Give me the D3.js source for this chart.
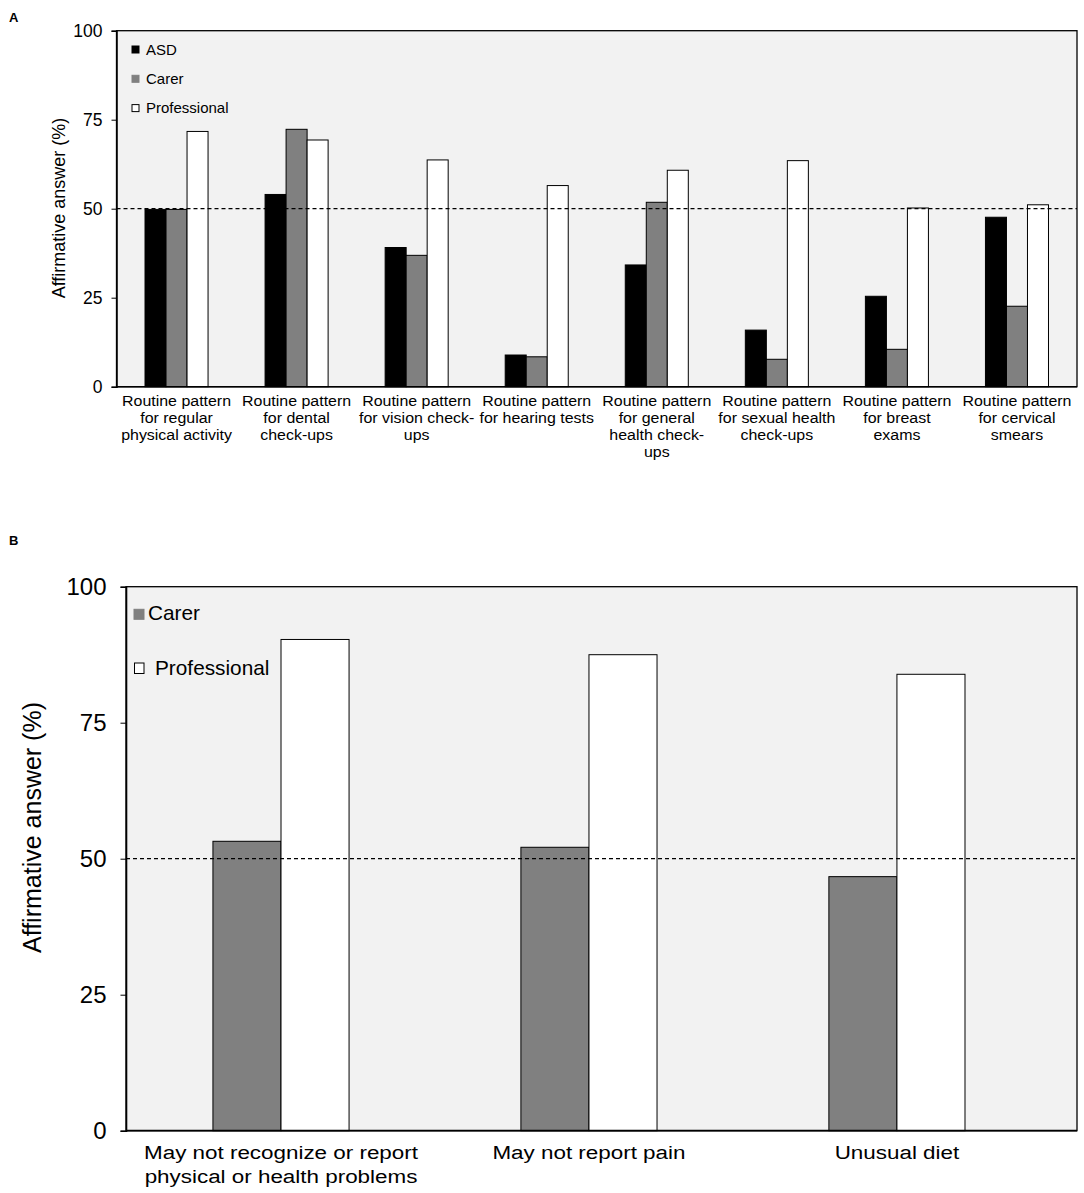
<!DOCTYPE html>
<html><head><meta charset="utf-8">
<script src="https://cdn.jsdelivr.net/npm/d3@7"></script>
<style>
html,body{margin:0;padding:0;background:#fff;}
svg{display:block;font-family:"Liberation Sans",Arial,Helvetica,sans-serif;}
</style></head>
<body>
<svg id="chart" width="1084" height="1193"></svg>
<script>
// ---------- Panel A data ----------
const categoriesA = [
  ["Routine pattern","for regular","physical activity"],
  ["Routine pattern","for dental","check-ups"],
  ["Routine pattern","for vision check-","ups"],
  ["Routine pattern","for hearing tests"],
  ["Routine pattern","for general","health check-","ups"],
  ["Routine pattern","for sexual health","check-ups"],
  ["Routine pattern","for breast","exams"],
  ["Routine pattern","for cervical","smears"]
];
const seriesA = ["ASD","Carer","Professional"];
const asdA          = [49.8, 54.0, 39.1, 8.9, 34.2, 15.9, 25.4, 47.6];
const carerA        = [49.8, 72.3, 36.9, 8.4, 51.8, 7.7, 10.5, 22.6];
const professionalA = [71.7, 69.3, 63.7, 56.5, 60.8, 63.5, 50.2, 51.1];
const yTicksA = [0, 25, 50, 75, 100];

// ---------- Panel B data ----------
const categoriesB = [
  ["May not recognize or report","physical or health problems"],
  ["May not report pain"],
  ["Unusual diet"]
];
const seriesB = ["Carer","Professional"];
const carerB        = [53.2, 52.1, 46.7];
const professionalB = [90.3, 87.5, 83.9];
const yTicksB = [0, 25, 50, 75, 100];
const threshold = 50;

const colors = {ASD:"#000000", Carer:"#808080", Professional:"#ffffff"};
const svg = d3.select("#chart");

// ================= PANEL A =================
(function(){
  const L=116.5, R=1077, T=30.7, B=386.7;
  const g = svg.append("g");
  const valuesA = {ASD:asdA, Carer:carerA, Professional:professionalA};
  const x0 = d3.scaleBand().domain(d3.range(categoriesA.length)).range([L,R])
      .paddingInner(0.475).paddingOuter(0.2375);
  const x1 = d3.scaleBand().domain(seriesA).range([0,x0.bandwidth()]);
  const y = d3.scaleLinear().domain([0,100]).range([B,T]);

  g.append("rect").attr("x",L).attr("y",T).attr("width",R-L).attr("height",B-T)
    .attr("fill","#f2f2f2").attr("stroke","#000").attr("stroke-width",1.3);

  categoriesA.forEach((c,i)=>{
    seriesA.forEach(s=>{
      const v = valuesA[s][i];
      g.append("rect").attr("x",x0(i)+x1(s)).attr("y",y(v))
        .attr("width",x1.bandwidth()).attr("height",y(0)-y(v))
        .attr("fill",colors[s]).attr("stroke","#000").attr("stroke-width",1);
    });
  });

  g.append("line").attr("x1",L).attr("x2",R).attr("y1",y(threshold)).attr("y2",y(threshold))
    .attr("stroke","#000").attr("stroke-width",1.2).attr("stroke-dasharray","4,3");

  const ya = g.append("g").attr("transform",`translate(${L},0)`)
    .call(d3.axisLeft(y).tickValues(yTicksA).tickSize(5).tickPadding(9));
  ya.select(".domain").attr("stroke","#000").attr("stroke-width",1.5);
  ya.selectAll("text").attr("font-size",17.5).attr("fill","#000")
    .attr("font-family","Liberation Sans, Arial, sans-serif");
  ya.selectAll("line").attr("stroke","#000");

  g.append("line").attr("x1",L).attr("x2",R).attr("y1",B).attr("y2",B)
    .attr("stroke","#000").attr("stroke-width",1.5);

  categoriesA.forEach((lines,i)=>{
    const cx = x0(i)+x0.bandwidth()/2;
    const t = g.append("text").attr("text-anchor","middle").attr("font-size",14.5).attr("fill","#000")
      .attr("transform",`translate(${cx},0) scale(1.1,1)`);
    lines.forEach((ln,k)=>{
      t.append("tspan").attr("x",0).attr("y",406.5+k*16.7).text(ln);
    });
  });

  g.append("text").attr("transform",`translate(65,${208}) rotate(-90)`)
    .attr("text-anchor","middle").attr("font-size",18).text("Affirmative answer (%)");

  seriesA.forEach((s,k)=>{
    const ly = 50 + k*29.3;
    g.append("rect").attr("x",132).attr("y",ly-4).attr("width",7).attr("height",7)
      .attr("fill",colors[s]).attr("stroke", s==="Carer" ? "#808080" : "#000").attr("stroke-width",1);
    g.append("text").attr("x",146).attr("y",ly+4.5).attr("font-size",15).text(s);
  });

  svg.append("text").attr("x",9).attr("y",22).attr("font-size",13).attr("font-weight","bold").text("A");
})();

// ================= PANEL B =================
(function(){
  const L=126, R=1077, T=586.7, B=1130.7;
  const g = svg.append("g");
  const valuesB = {Carer:carerB, Professional:professionalB};
  const x0 = d3.scaleBand().domain(d3.range(categoriesB.length)).range([L,R])
      .paddingInner(0.558).paddingOuter(0.323).align(0.437);
  const x1 = d3.scaleBand().domain(seriesB).range([0,x0.bandwidth()]);
  const y = d3.scaleLinear().domain([0,100]).range([B,T]);

  g.append("rect").attr("x",L).attr("y",T).attr("width",R-L).attr("height",B-T)
    .attr("fill","#f2f2f2").attr("stroke","#000").attr("stroke-width",1.3);

  categoriesB.forEach((c,i)=>{
    seriesB.forEach(s=>{
      const v = valuesB[s][i];
      g.append("rect").attr("x",x0(i)+x1(s)).attr("y",y(v))
        .attr("width",x1.bandwidth()).attr("height",y(0)-y(v))
        .attr("fill",colors[s]).attr("stroke","#000").attr("stroke-width",1);
    });
  });

  g.append("line").attr("x1",L).attr("x2",R).attr("y1",y(threshold)).attr("y2",y(threshold))
    .attr("stroke","#000").attr("stroke-width",1.3).attr("stroke-dasharray","4,3");

  const ya = g.append("g").attr("transform",`translate(${L},0)`)
    .call(d3.axisLeft(y).tickValues(yTicksB).tickSize(5.5).tickPadding(14));
  ya.select(".domain").attr("stroke","#000").attr("stroke-width",1.6);
  ya.selectAll("text").attr("font-size",24).attr("fill","#000")
    .attr("font-family","Liberation Sans, Arial, sans-serif");
  ya.selectAll("line").attr("stroke","#000");

  g.append("line").attr("x1",L).attr("x2",R).attr("y1",B).attr("y2",B)
    .attr("stroke","#000").attr("stroke-width",1.8);

  categoriesB.forEach((lines,i)=>{
    const cx = x0(i)+x0.bandwidth()/2;
    const t = g.append("text").attr("text-anchor","middle").attr("font-size",19).attr("fill","#000")
      .attr("transform",`translate(${cx},0) scale(1.18,1)`);
    lines.forEach((ln,k)=>{
      t.append("tspan").attr("x",0).attr("y",1159+k*24).text(ln);
    });
  });

  g.append("text").attr("transform",`translate(41,827.5) rotate(-90)`)
    .attr("text-anchor","middle").attr("font-size",25).text("Affirmative answer (%)");

  g.append("rect").attr("x",134).attr("y",609.3).attr("width",10).attr("height",10)
    .attr("fill",colors.Carer).attr("stroke","#808080");
  g.append("text").attr("x",148).attr("y",620).attr("font-size",20.8).text(seriesB[0]);
  g.append("rect").attr("x",134.5).attr("y",663).attr("width",9.5).attr("height",10.5)
    .attr("fill",colors.Professional).attr("stroke","#000");
  g.append("text").attr("x",155).attr("y",675).attr("font-size",20.8).text(seriesB[1]);

  svg.append("text").attr("x",9).attr("y",545).attr("font-size",13).attr("font-weight","bold").text("B");
})();
</script>
</body></html>
